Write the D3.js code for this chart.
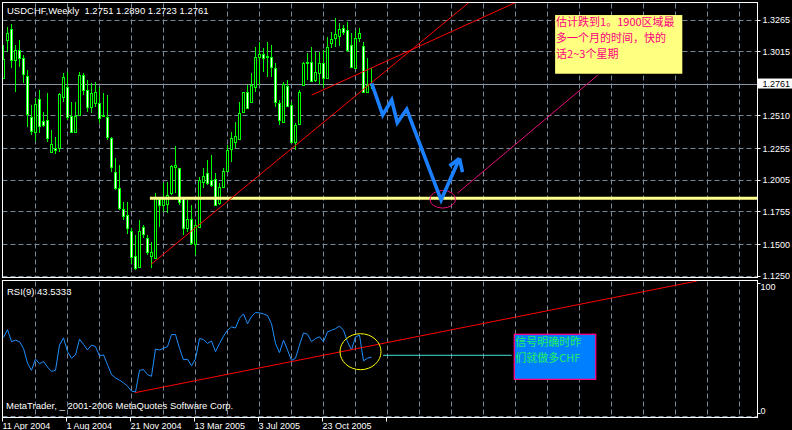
<!DOCTYPE html>
<html><head><meta charset="utf-8">
<script src="https://cdn.jsdelivr.net/npm/d3@7/dist/d3.min.js"></script>
<style>
html,body{margin:0;padding:0;background:#000;}
svg{display:block;}
text{font-family:"Liberation Sans",Arial,sans-serif;}
</style></head><body>
<svg id="c" width="792" height="430"></svg>
<script>
// ---- data (weekly USDCHF) ----
const opens  = [1.2811,1.3110,1.3194,1.2950,1.3029,1.2963,1.2824,1.2504,1.2381,1.2640,1.2470,1.2478,1.2229,1.2255,1.2255,1.2661,1.2740,1.2509,1.2386,1.2517,1.2832,1.2714,1.2583,1.2614,1.2609,1.2512,1.2499,1.2334,1.2071,1.1940,1.1777,1.1730,1.1607,1.1410,1.1324,1.1633,1.1547,1.1410,1.1395,1.1856,1.1809,1.1814,1.1901,1.2105,1.2097,1.1862,1.1625,1.1699,1.1499,1.1638,1.1993,1.2058,1.2006,1.2014,1.1822,1.1953,1.2079,1.2250,1.2307,1.2326,1.2538,1.2696,1.2622,1.2740,1.2976,1.2995,1.2971,1.2976,1.2884,1.2609,1.2460,1.2745,1.2596,1.2302,1.2444,1.2753,1.2932,1.2932,1.2793,1.2845,1.2924,1.2806,1.3086,1.3121,1.3142,1.3199,1.3186,1.3068,1.2884,1.3121,1.3063,1.2701,1.2751];
const highs  = [1.3068,1.3212,1.3231,1.3068,1.3107,1.2989,1.2871,1.2596,1.2648,1.2714,1.2543,1.2688,1.2399,1.2347,1.2688,1.2845,1.2858,1.2622,1.2622,1.2858,1.2845,1.2793,1.2766,1.2780,1.2740,1.2688,1.2675,1.2347,1.2176,1.2124,1.1835,1.1835,1.1625,1.1573,1.1691,1.1652,1.1573,1.1515,1.1901,1.1875,1.1980,1.1987,1.2124,1.2276,1.2100,1.1865,1.1848,1.1809,1.1683,1.2032,1.2097,1.2163,1.2202,1.2058,1.1980,1.2097,1.2281,1.2386,1.2465,1.2622,1.2701,1.2753,1.2845,1.3055,1.3094,1.3042,1.3094,1.3068,1.2924,1.2635,1.2774,1.2793,1.2622,1.2452,1.2714,1.2937,1.3002,1.3055,1.3016,1.3016,1.3029,1.3134,1.3173,1.3283,1.3239,1.3225,1.3252,1.3160,1.3186,1.3199,1.3094,1.2963,1.2890];
const lows   = [1.2801,1.3016,1.2884,1.2701,1.2898,1.2766,1.2425,1.2360,1.2313,1.2373,1.2425,1.2307,1.2216,1.2208,1.2229,1.2622,1.2478,1.2373,1.2373,1.2510,1.2675,1.2543,1.2530,1.2583,1.2452,1.2504,1.2321,1.2071,1.1927,1.1770,1.1691,1.1578,1.1342,1.1297,1.1311,1.1547,1.1416,1.1311,1.1389,1.1638,1.1757,1.1743,1.1888,1.1901,1.1809,1.1573,1.1599,1.1494,1.1416,1.1625,1.1940,1.1966,1.1953,1.1805,1.1809,1.1940,1.2071,1.2150,1.2255,1.2321,1.2530,1.2570,1.2609,1.2701,1.2753,1.2858,1.2819,1.2819,1.2583,1.2439,1.2452,1.2583,1.2294,1.2242,1.2439,1.2745,1.2793,1.2774,1.2780,1.2753,1.2740,1.2801,1.3042,1.3055,1.3063,1.3147,1.3016,1.2884,1.2884,1.3094,1.2690,1.2696,1.2723];
const closes = [1.2958,1.3163,1.2950,1.3029,1.2963,1.2837,1.2523,1.2391,1.2601,1.2433,1.2439,1.2334,1.2286,1.2239,1.2680,1.2819,1.2504,1.2386,1.2509,1.2832,1.2714,1.2583,1.2688,1.2696,1.2496,1.2517,1.2342,1.2111,1.1945,1.1783,1.1725,1.1625,1.1397,1.1311,1.1607,1.1578,1.1442,1.1436,1.1862,1.1809,1.1856,1.1888,1.2118,1.2124,1.1835,1.1631,1.1699,1.1507,1.1652,1.2006,1.2037,1.1980,1.1966,1.1809,1.1953,1.2076,1.2242,1.2339,1.2355,1.2530,1.2696,1.2575,1.2753,1.2976,1.2995,1.2963,1.2981,1.2898,1.2622,1.2478,1.2758,1.2591,1.2302,1.2439,1.2696,1.2924,1.2937,1.2785,1.2853,1.2924,1.2806,1.3055,1.3113,1.3152,1.3191,1.3168,1.3029,1.2898,1.3121,1.3165,1.2696,1.2753,1.2761];
const rsiValues = [58.3,64.2,55.1,56.3,55.1,50.1,39.0,33.6,42.0,38.5,40.2,36.0,32.8,33.6,52.6,58.0,47.7,42.7,45.2,57.0,53.1,48.9,52.6,51.4,44.4,45.2,37.8,30.4,27.9,26.2,24.2,21.7,18.0,17.3,33.6,34.1,30.4,29.1,49.6,48.9,50.1,51.4,60.5,60.5,50.1,41.5,42.0,37.0,42.2,57.5,56.8,53.8,55.6,47.7,53.8,59.3,63.7,66.2,65.4,72.8,76.0,68.6,74.1,77.0,76.8,76.0,74.8,68.6,53.8,46.9,56.3,48.9,41.0,42.7,52.6,61.7,60.7,55.1,57.5,58.8,55.1,62.5,63.7,64.9,66.9,63.7,55.1,48.9,58.8,60.0,40.7,42.7,43.5333];
const dateLabels = ["11 Apr 2004","1 Aug 2004","21 Nov 2004","13 Mar 2005","3 Jul 2005","23 Oct 2005",""];
const dateTickIndex = [0,16,32,48,64,80,96];
const priceTicks = [1.3265,1.3015,1.2760,1.2510,1.2255,1.2005,1.1755,1.1500,1.1250];
const rsiTicks = [100,0];
const lastPrice = 1.2761;
const titleText = "USDCHF,Weekly  1.2751 1.2890 1.2723 1.2761";
const rsiTitle = "RSI(9) 43.5333";
const copyright = "MetaTrader, _ 2001-2006 MetaQuotes Software Corp.";
const note1 = ["估计跌到1。1900区域最","多一个月的时间，快的","话2~3个星期"];
const note2 = ["信号明确时昨","们就做多CHF"];
// drawn objects, anchored in data units [bar index, price/rsi]
const supportLevel = 1.1862, supportFrom = 36.6;
const trendA = [[36.9,1.1342],[115.9,1.3391]];
const trendB = [[77.05,1.2674],[127.9,1.3401]];
const channelC = [[113.45,1.1901],[148.6,1.2832]];
const arrowPath = [[92.05,1.2767],[94.8,1.2517],[97.05,1.2635],[98.45,1.2456],[100.8,1.2562],[109.4,1.1848],[114.0,1.2175]];
const arrowBarbs = [[111.5,1.2116],[114.75,1.2068]];
const targetEllipse = [109.8,1.1854];
const rsiTrend = [[32.9,16.8],[173.4,100.75]];
const rsiEllipse = [89.25,47.6];
const rsiSignal = [[94.9,44.9],[127.05,44.9]];
const note1Box = [[137.9,1.3304],[169.7,1.2842]];
const note2Box = [[127.7,60.7],[148.05,26.8]];

// ---- drawing ----
const svg = d3.select('#c');
const x = d3.scaleLinear().domain([0,184]).range([3.5,739.5]);
const yP = d3.scaleLinear().domain([1.1250,1.3265]).range([276,20]);
const yR = d3.scaleLinear().domain([0,100]).range([415,282]);
const L = 2.5, R = 757.5, MT = 2.5, MB = 277.5, RT = 280.5, RB = 417.5;
const gridCol = '#778899';
const crisp = v => Math.round(v - 0.5) + 0.5;

svg.append('rect').attr('width',792).attr('height',430).attr('fill','#000');
const defs = svg.append('defs');
defs.append('clipPath').attr('id','cm').append('rect').attr('x',L+0.5).attr('y',MT+0.5).attr('width',R-L-1).attr('height',MB-MT-1);
defs.append('clipPath').attr('id','cr').append('rect').attr('x',L+0.5).attr('y',RT+0.5).attr('width',R-L-1).attr('height',RB-RT-1);

// vertical grid
const vgrid = d3.range(8,185,8);
[[MT,MB],[RT,RB]].forEach(([t,b]) => {
  svg.append('g').selectAll('line').data(vgrid).join('line')
    .attr('x1',d=>x(d)).attr('x2',d=>x(d)).attr('y1',t+1).attr('y2',b-1)
    .attr('stroke',gridCol).attr('stroke-dasharray','5,3');
});
// horizontal grid (price)
svg.append('g').selectAll('line').data(priceTicks).join('line')
  .attr('x1',L).attr('x2',R).attr('y1',d=>crisp(yP(d))).attr('y2',d=>crisp(yP(d)))
  .attr('stroke',gridCol).attr('stroke-dasharray','5,3');
// rsi bottom grid
svg.append('line').attr('x1',L).attr('x2',R).attr('y1',RB-1).attr('y2',RB-1)
  .attr('stroke',gridCol).attr('stroke-dasharray','5,3');

// current price line
svg.append('line').attr('x1',L).attr('x2',R).attr('y1',crisp(yP(lastPrice))).attr('y2',crisp(yP(lastPrice)))
  .attr('stroke','#8a96a6');

const main = svg.append('g').attr('clip-path','url(#cm)');
const rsiG = svg.append('g').attr('clip-path','url(#cr)');

// candles
const candles = d3.range(opens.length).map(i => ({i,o:opens[i],h:highs[i],l:lows[i],c:closes[i]}));
main.append('g').selectAll('line').data(candles).join('line')
  .attr('x1',d=>x(d.i)).attr('x2',d=>x(d.i))
  .attr('y1',d=>Math.round(yP(d.h))).attr('y2',d=>Math.round(yP(d.l)))
  .attr('stroke','#00ff00');
main.append('g').selectAll('rect').data(candles).join('rect')
  .attr('x',d=>x(d.i)-1).attr('width',2)
  .attr('y',d=>Math.round(yP(Math.max(d.o,d.c)))+0.5)
  .attr('height',d=>Math.max(1,Math.round(yP(Math.min(d.o,d.c)))-Math.round(yP(Math.max(d.o,d.c)))))
  .attr('fill',d=>d.c>=d.o?'#000':'#fff').attr('stroke','#00ff00');

const lineP = d3.line().x(d=>x(d[0])).y(d=>yP(d[1]));
const lineR = d3.line().x(d=>x(d[0])).y(d=>yR(d[1]));
function extend(p){ // extend segment as a ray to the right
  const [a,b] = p; const k=(b[1]-a[1])/(b[0]-a[0]); const e=b[0]+40;
  return [a,[e,b[1]+k*(e-b[0])]];
}
// support line
main.append('line').attr('x1',x(supportFrom)).attr('x2',R).attr('y1',yP(supportLevel)).attr('y2',yP(supportLevel))
  .attr('stroke','#ffff8c').attr('stroke-width',3);
// trend lines
main.append('path').attr('d',lineP(extend(trendA))).attr('stroke','#ff0000').attr('fill','none');
main.append('path').attr('d',lineP(extend(trendB))).attr('stroke','#ff0000').attr('fill','none');
main.append('path').attr('d',lineP(channelC)).attr('stroke','#e8107a').attr('fill','none');
// target ellipse
main.append('ellipse').attr('cx',x(targetEllipse[0])).attr('cy',yP(targetEllipse[1])).attr('rx',12.8).attr('ry',8.8)
  .attr('fill','none').attr('stroke','#e8107a');
// arrow
main.append('path').attr('d',lineP(arrowPath)).attr('stroke','#1a80ff').attr('stroke-width',3.6)
  .attr('fill','none').attr('stroke-linejoin','miter');
arrowBarbs.forEach(b => {
  main.append('path').attr('d',lineP([arrowPath[arrowPath.length-1],b])).attr('stroke','#1a80ff').attr('stroke-width',3.6).attr('fill','none');
});
// note 1
const n1x = x(note1Box[0][0]), n1y = yP(note1Box[0][1]);
main.append('rect').attr('x',n1x).attr('y',n1y).attr('width',x(note1Box[1][0])-n1x).attr('height',yP(note1Box[1][1])-n1y)
  .attr('fill','#ffff80');
svg.append('g').selectAll('text').data(note1).join('text')
  .attr('x',n1x+1).attr('y',(d,i)=>n1y+11+i*16.2).text(d=>d)
  .attr('fill','#ff0080').style('font-family','"Noto Sans CJK SC"').style('font-size','11px');

// RSI
rsiG.append('path').attr('d',lineR(rsiValues.map((v,i)=>[i,v]))).attr('stroke','#1e90ff').attr('fill','none');
rsiG.append('path').attr('d',lineR(rsiTrend)).attr('stroke','#ff0000').attr('fill','none');
rsiG.append('ellipse').attr('cx',x(rsiEllipse[0])).attr('cy',yR(rsiEllipse[1])).attr('rx',20.5).attr('ry',18)
  .attr('fill','none').attr('stroke','#ffff00');
rsiG.append('path').attr('d',lineR(rsiSignal)).attr('stroke','#40e0d0').attr('fill','none');
const n2x = x(note2Box[0][0]), n2y = yR(note2Box[0][1]);
rsiG.append('rect').attr('x',n2x).attr('y',n2y).attr('width',x(note2Box[1][0])-n2x).attr('height',yR(note2Box[1][1])-n2y)
  .attr('fill','#0080ff').attr('stroke','#ff0080').attr('stroke-width',1.3);
svg.append('g').selectAll('text').data(note2).join('text')
  .attr('x',n2x+1).attr('y',(d,i)=>n2y+12+i*16.2).text(d=>d)
  .attr('fill','#20f060').style('font-family','"Noto Sans CJK SC"').style('font-size','11px');

// borders
svg.append('rect').attr('x',L).attr('y',MT).attr('width',R-L).attr('height',MB-MT).attr('fill','none').attr('stroke','#fff');
svg.append('rect').attr('x',L).attr('y',RT).attr('width',R-L).attr('height',RB-RT).attr('fill','none').attr('stroke','#fff');

// price axis
const pa = svg.append('g');
pa.selectAll('line').data(priceTicks).join('line')
  .attr('x1',R).attr('x2',R+3).attr('y1',d=>crisp(yP(d))).attr('y2',d=>crisp(yP(d))).attr('stroke','#fff');
pa.selectAll('text').data(priceTicks).join('text')
  .attr('x',R+5).attr('y',d=>yP(d)+3.3).text(d=>d.toFixed(4))
  .attr('fill','#fff').style('font-size','9px');
// last price box
const lpY = yP(lastPrice);
svg.append('rect').attr('x',R).attr('y',lpY-5.5).attr('width',792-R).attr('height',10).attr('fill','#fff');
svg.append('text').attr('x',R+5).attr('y',lpY+3.3).text(lastPrice.toFixed(4)).attr('fill','#000').style('font-size','9px');

// rsi axis
const ra = svg.append('g');
ra.selectAll('line').data(rsiTicks).join('line')
  .attr('x1',R).attr('x2',R+3).attr('y1',d=>crisp(d===100?yR(d)+1:yR(d)-2)).attr('y2',d=>crisp(d===100?yR(d)+1:yR(d)-2)).attr('stroke','#fff');
ra.selectAll('text').data(rsiTicks).join('text')
  .attr('x',R+3).attr('y',d=>d===100?yR(d)+8:yR(d)-1).text(d=>d)
  .attr('fill','#fff').style('font-size','9px');

// time axis
const ta = svg.append('g');
ta.selectAll('line').data(dateTickIndex).join('line')
  .attr('x1',d=>x(d)-1).attr('x2',d=>x(d)-1).attr('y1',RB).attr('y2',RB+4).attr('stroke','#fff');
ta.selectAll('text').data(dateTickIndex).join('text')
  .attr('x',d=>x(d)-1).attr('y',429).text((d,i)=>dateLabels[i])
  .attr('fill','#fff').style('font-size','9px');

// titles
svg.append('text').attr('x',7).attr('y',14).text(titleText).attr('fill','#fff')
  .style('font-size','9.5px').style('white-space','pre');
svg.append('text').attr('x',7).attr('y',294.5).text(rsiTitle).attr('fill','#fff').style('font-size','9.5px');
svg.append('text').attr('x',6).attr('y',409).text(copyright).attr('fill','#fff').style('font-size','9.5px');
</script>
</body></html>
